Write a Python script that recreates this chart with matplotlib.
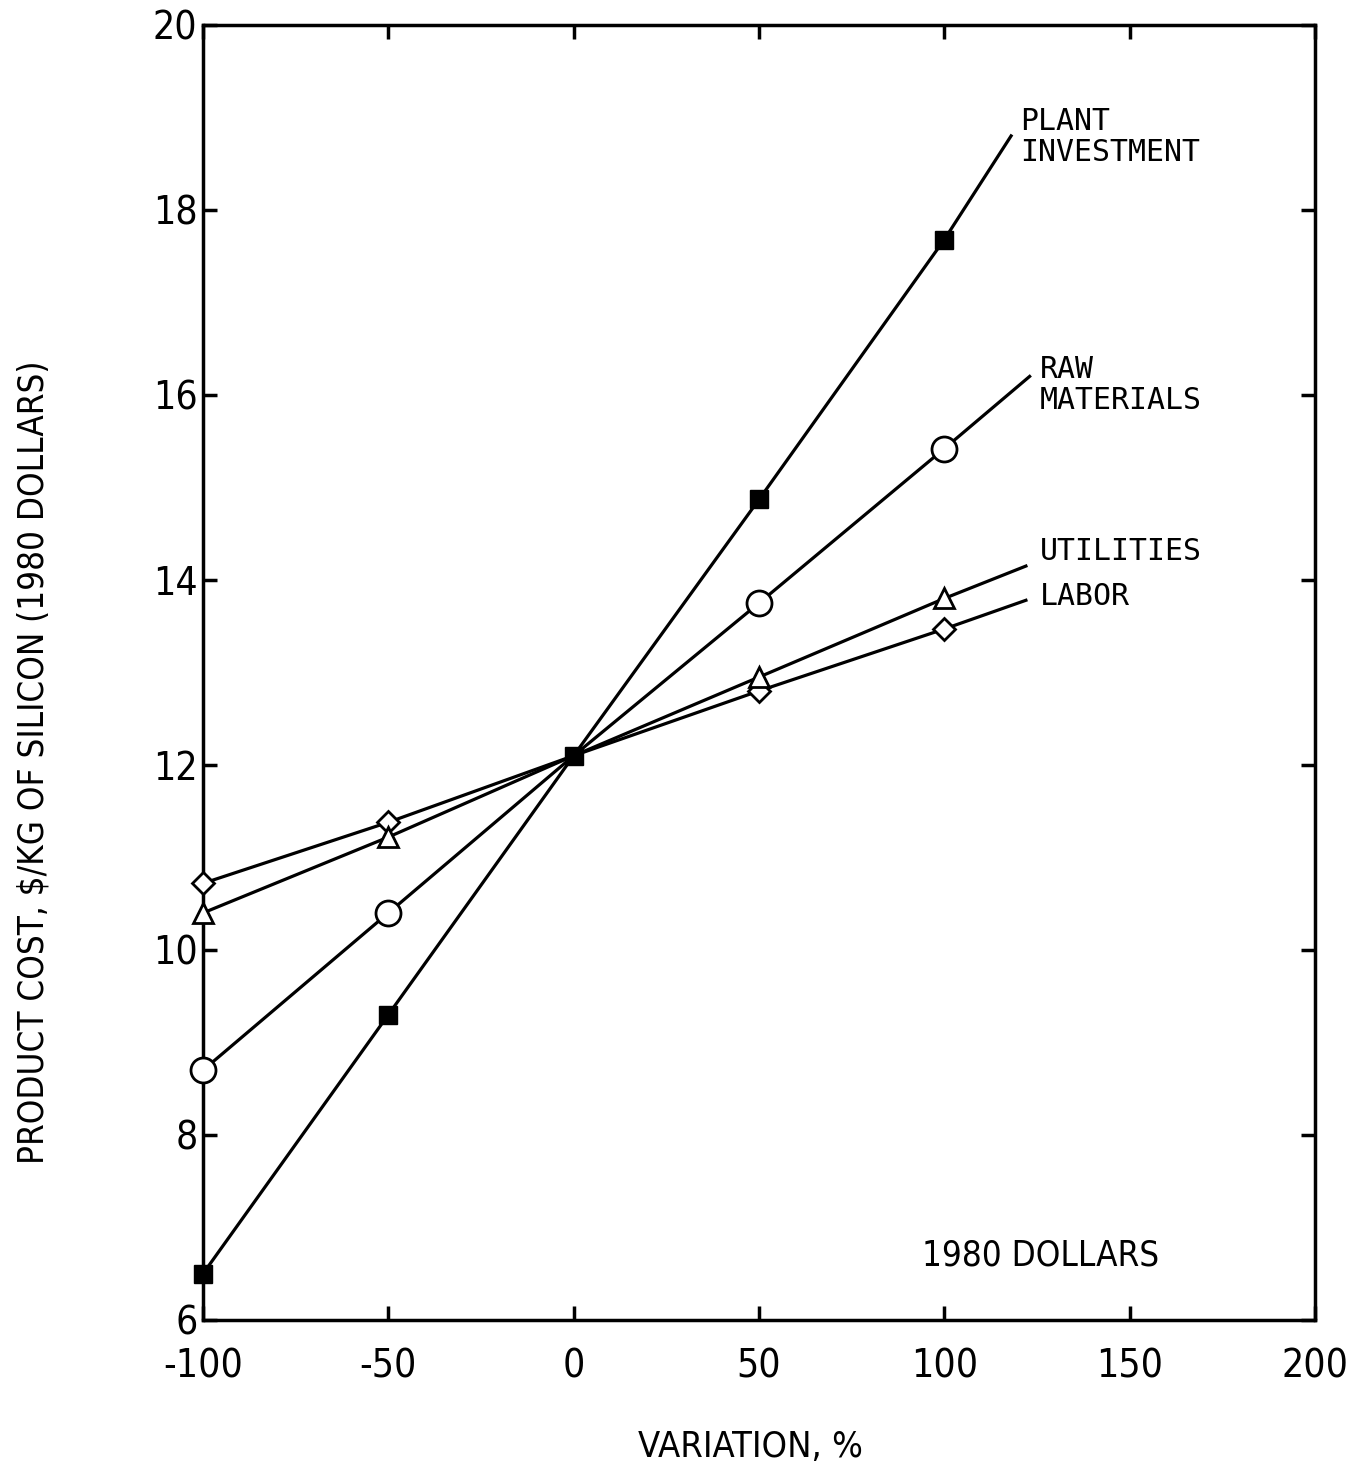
import matplotlib.pyplot as plt

# variation, %
variation = [-100, -50, 0, 50, 100]

plant_investment = [6.5, 9.3, 12.1, 14.87, 17.68]
raw_materials = [8.7, 10.4, 12.1, 13.75, 15.42]
utilities = [10.4, 11.22, 12.1, 12.95, 13.8]
labor = [10.72, 11.38, 12.1, 12.8, 13.47]

# where each curve runs out to its label
end_x = [118, 123, 122, 122]
end_y = [18.8, 16.2, 14.15, 13.78]

labels = ["PLANT\nINVESTMENT", "RAW\nMATERIALS", "UTILITIES", "LABOR"]
label_x = [120.4, 125.8, 125.8, 125.8]
label_y = [18.79, 16.11, 14.31, 13.82]

x_ticks = [-100, -50, 0, 50, 100, 150, 200]
y_ticks = [6, 8, 10, 12, 14, 16, 18, 20]

cond = dict(family='DejaVu Sans', stretch='condensed')
tick_font = dict(size=28, **cond)

fig = plt.figure(figsize=(13.56, 14.65), dpi=100)
ax = fig.add_axes([0.1497, 0.099, 0.8201, 0.884])

series = [labor, utilities, raw_materials, plant_investment]
# the shared 0 % point only shows the filled square
skip_centre = [0, 1, 3, 4]
styles = [
    dict(marker='D', ms=11, mfc='white', mec='black', mew=2, markevery=skip_centre),
    dict(marker='^', ms=15, mfc='white', mec='black', mew=2, markevery=skip_centre),
    dict(marker='o', ms=18, mfc='white', mec='black', mew=2, markevery=skip_centre),
    dict(marker='s', ms=13, mfc='black', mec='black'),
]
ends = list(zip(end_x, end_y))[::-1]

for vals, (ex, ey), st in zip(series, ends, styles):
    ax.plot(variation + [ex], vals + [ey], color='black', lw=2.3, zorder=2)
    ax.plot(variation, vals, ls='none', zorder=3, clip_on=False, **st)

for txt, lx, ly in zip(labels, label_x, label_y):
    ax.text(lx, ly, txt, family='DejaVu Sans Mono', fontsize=21.5,
            ha='left', va='center', linespacing=1.1)

ax.text(126, 6.7, "1980 DOLLARS", ha='center', va='center', size=25, **cond)

ax.set_xlim(-100, 200)
ax.set_ylim(6, 20)
ax.set_xticks(x_ticks)
ax.set_yticks(y_ticks)
ax.set_xticklabels([str(v) for v in x_ticks], fontdict=tick_font)
ax.set_yticklabels([str(v) for v in y_ticks], fontdict=tick_font)
ax.tick_params(direction='in', length=10, width=2.5, top=True, right=True)
ax.tick_params(axis='x', pad=20)
ax.tick_params(axis='y', pad=4)
for s in ax.spines.values():
    s.set_linewidth(2.5)

ax.set_xlabel("VARIATION, %", size=26, **cond)
ax.set_ylabel("PRODUCT COST, $/KG OF SILICON (1980 DOLLARS)", size=25, **cond)
ax.xaxis.set_label_coords(0.492, -0.085)
ax.yaxis.set_label_coords(-0.137, 0.431)

fig.savefig("out.png", dpi=100)
